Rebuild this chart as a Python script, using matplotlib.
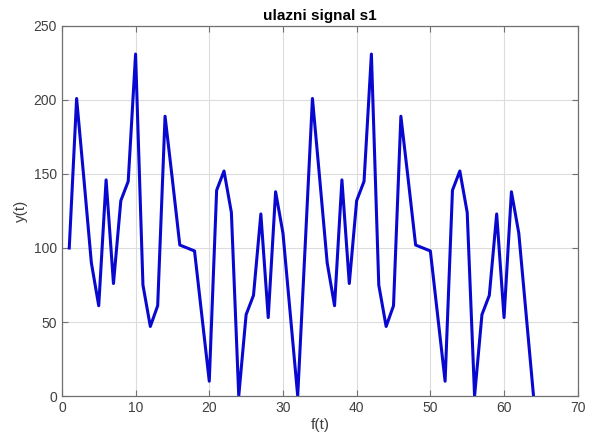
import numpy as np
import matplotlib
matplotlib.use("Agg")
import matplotlib.pyplot as plt

plt.rcParams['font.family'] = ['Liberation Sans', 'DejaVu Sans']

# sample index and signal values
t = np.arange(1, 65)
s1 = [100, 201, 146, 90, 61, 146, 76, 132, 145, 231,
      75, 47, 61, 189, 146, 102, 100, 98, 54, 10,
      139, 152, 124, 0, 55, 68, 123, 53, 138, 110,
      55, 0,
      100, 201, 146, 90, 61, 146, 76, 132, 145, 231,
      75, 47, 61, 189, 146, 102, 100, 98, 54, 10,
      139, 152, 124, 0, 55, 68, 123, 53, 138, 110,
      55, 0]

xticks = [0, 10, 20, 30, 40, 50, 60, 70]
yticks = [0, 50, 100, 150, 200, 250]

fig = plt.figure(figsize=(5.95, 4.47), dpi=100)
ax = fig.add_axes([0.104, 0.114, 0.867, 0.828])

ax.plot(t, s1, color='#0808d0', linewidth=2.2)

ax.set_xlim(0, 70)
ax.set_ylim(0, 250)
ax.set_xticks(xticks)
ax.set_yticks(yticks)
ax.grid(True, color='#dcdcdc', linewidth=0.8)
ax.set_axisbelow(True)
ax.tick_params(direction='in', length=4, color='#707070', labelcolor='#404040',
               labelsize=10, top=True, right=True, labeltop=False, labelright=False)
for sp in ax.spines.values():
    sp.set_color('#707070')
    sp.set_linewidth(0.9)

ax.set_title('ulazni signal s1', fontsize=11, fontweight='bold', color='black', pad=4)
ax.set_xlabel('f(t)', fontsize=11, color='#404040', labelpad=2)
ax.set_ylabel('y(t)', fontsize=11, color='#404040', labelpad=4)

fig.savefig('out.png', dpi=100)
